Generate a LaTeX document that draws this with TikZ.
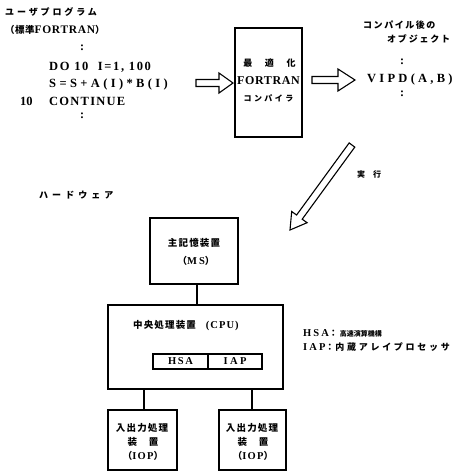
\documentclass[tikz,border=0pt]{standalone}
\usepackage{fontspec}
\newfontfamily\jpf{Noto Sans CJK JP}
\newfontfamily\latf{Liberation Serif}
\newcommand{\ltx}[3]{{\latf\bfseries\fontsize{#1}{12}\selectfont\addfontfeature{LetterSpace=#2}#3}}
\newcommand{\jtx}[3]{{\jpf\bfseries\fontsize{#1}{12}\selectfont\addfontfeature{LetterSpace=#2}#3}}
\begin{document}
\begin{tikzpicture}[x=1pt,y=-1pt,
  box/.style={draw, line width=1.2pt, inner sep=0pt},
  ln/.style={line width=1.2pt},
  hollow/.style={draw, line width=1.1pt, fill=white, line join=miter},
  lbl/.style={inner sep=0pt, anchor=west},
  clbl/.style={inner sep=0pt, anchor=center}]
\useasboundingbox (0,0) rectangle (461,472);

% user program
\node[lbl] (up1) at (5,12) {\jtx{9}{32}{ユーザプログラム}};
\node[lbl] (up2) at (5,30) {\jtx{9.5}{5}{（標準}\ltx{11.5}{6}{FORTRAN}\jtx{9.5}{5}{）}};
\node[clbl] (d1) at (82,48) {\ltx{12}{0}{:}};
\node[lbl] (c1) at (49,67) {\ltx{12.5}{13}{DO 10 \ I=1, 100}};
\node[lbl] (c2) at (49,84) {\ltx{12.5}{27}{S=S+A(I)*B(I)}};
\node[lbl] (c3a) at (20,101) {\ltx{12.5}{0}{10}};
\node[lbl] (c3b) at (49,101) {\ltx{12.5}{10}{CONTINUE}};
\node[clbl] (d2) at (82,116) {\ltx{12}{0}{:}};

% arrow 1
\draw[hollow] (196,79.5) -- (219,79.5) -- (219,73) -- (233,83) -- (219,93) -- (219,86.5) -- (196,86.5) -- cycle;

% compiler
\node[box, minimum width=67pt, minimum height=109pt] (comp) at (268.5,82.5) {};
\node[clbl] (ct1) at (269.5,63) {\jtx{9}{20}{最　適　化}};
\node[clbl] (ct2) at (268.5,81) {\ltx{12}{5}{FORTRAN}};
\node[clbl] (ct3) at (268.5,98) {\jtx{8}{30}{コンパイラ}};

% arrow 2
\draw[hollow] (312,76.5) -- (338,76.5) -- (338,69) -- (355,80) -- (338,91) -- (338,83.5) -- (312,83.5) -- cycle;

% object
\node[lbl] (ob1) at (363,25) {\jtx{9}{17}{コンパイル後の}};
\node[lbl] (ob2) at (387,39) {\jtx{9}{20}{オブジェクト}};
\node[clbl] (d3) at (402,62) {\ltx{12}{0}{:}};
\node[lbl] (vipd) at (367,79) {\ltx{12.5}{26}{VIPD(A,B)}};
\node[clbl] (d4) at (402,94) {\ltx{12}{0}{:}};

% execute arrow
\draw[hollow] (354.8,147.1) -- (302.2,219.2) -- (307.1,222.7) -- (290,230) -- (291.7,211.5) -- (296.6,215.0) -- (349.2,142.9) -- cycle;
\node[lbl] (exe) at (357,174) {\jtx{8}{0}{実　行}};

% hardware
\node[lbl] (hw) at (39,195) {\jtx{9}{45}{ハードウェア}};

\node[box, minimum width=88pt, minimum height=66pt] (ms) at (194,251) {};
\node[clbl] (mst1) at (194,243) {\jtx{9.5}{12}{主記憶装置}};
\node[clbl] (mst2) at (196,261) {\jtx{9.5}{5}{（}\ltx{10.5}{20}{MS}\jtx{9.5}{5}{）}};

\node[box, minimum width=175pt, minimum height=84pt] (cpu) at (195.5,347) {};
\node[lbl] (cput) at (133,326) {\jtx{9.5}{12}{中央処理装置}\hspace{10pt}\ltx{10.5}{10}{(CPU)}};
\node[box, minimum width=55pt, minimum height=15pt] (hsa) at (180.5,361.5) {\ltx{10.5}{16}{HSA}};
\node[box, minimum width=54pt, minimum height=15pt] (iap) at (235,361.5) {\ltx{10.5}{23}{IAP}};

\node[box, minimum width=69pt, minimum height=60pt] (iop1) at (142.5,440) {};
\node[clbl] (i1a) at (142,428) {\jtx{9.5}{12}{入出力処理}};
\node[clbl] (i1b) at (143,442) {\jtx{9.5}{12}{装　置}};
\node[clbl] (i1c) at (143,456) {\jtx{9.5}{5}{（}\ltx{10.5}{12}{IOP}\jtx{9.5}{5}{）}};

\node[box, minimum width=67pt, minimum height=60pt] (iop2) at (252.5,440) {};
\node[clbl] (i2a) at (252,428) {\jtx{9.5}{12}{入出力処理}};
\node[clbl] (i2b) at (253,442) {\jtx{9.5}{12}{装　置}};
\node[clbl] (i2c) at (253,456) {\jtx{9.5}{5}{（}\ltx{10.5}{12}{IOP}\jtx{9.5}{5}{）}};

\draw[ln] (197,0 |- ms.south) -- (197,0 |- cpu.north);
\draw[ln] (144,0 |- iop1.north) -- (144,0 |- cpu.south);
\draw[ln] (252,0 |- iop2.north) -- (252,0 |- cpu.south);

% legend
\node[lbl] (lg1) at (303,333) {\ltx{10.5}{20}{HSA}\jtx{9}{0}{：}\hspace{2pt}\jtx{7}{0}{高速演算機構}};
\node[lbl] (lg2) at (303,347) {\ltx{10.5}{20}{IAP}\jtx{9}{0}{：}\hspace{1pt}\jtx{9}{30}{内蔵アレイプロセッサ}};
\end{tikzpicture}
\end{document}
